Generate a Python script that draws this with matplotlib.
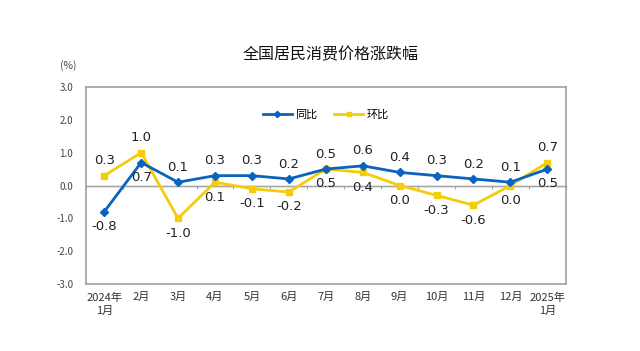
import matplotlib
matplotlib.use("Agg")
import matplotlib.pyplot as plt
import numpy as np

plt.rcParams['font.family'] = ['Noto Sans CJK SC', 'DejaVu Sans']

months = ["2024年\n1月", "2月", "3月", "4月", "5月", "6月", "7月", "8月",
          "9月", "10月", "11月", "12月", "2025年\n1月"]
yoy = [-0.8, 0.7, 0.1, 0.3, 0.3, 0.2, 0.5, 0.6, 0.4, 0.3, 0.2, 0.1, 0.5]
mom = [0.3, 1.0, -1.0, 0.1, -0.1, -0.2, 0.5, 0.4, 0.0, -0.3, -0.6, 0.0, 0.7]
# label placement: True = above the point
yoy_above = [False, False, True, True, True, True, True, True, True, True, True, True, False]
mom_above = [True, True, False, False, False, False, False, False, False, False, False, False, True]
yticks = [3.0, 2.0, 1.0, 0.0, -1.0, -2.0, -3.0]

blue = "#0a63bf"
yellow = "#f5cc0a"

fig = plt.figure(figsize=(6.4, 3.51), dpi=100)
ax = fig.add_axes([0.134, 0.191, 0.750, 0.561])
x = np.arange(len(months))

ax.axhline(0, color="#a6a6a6", lw=1.0, zorder=1)
ax.plot(x, yoy, color=blue, lw=2.0, marker="D", ms=4, label="同比", zorder=3)
ax.plot(x, mom, color=yellow, lw=2.0, marker="s", ms=4, label="环比", zorder=2)

for xi, v, a in zip(x, yoy, yoy_above):
    ax.annotate(f"{v:.1f}", (xi, v), xytext=(0, 6 if a else -6), textcoords="offset points",
                ha="center", va="bottom" if a else "top", fontsize=9.5, color="#222222",
                family=["DejaVu Sans"])
for xi, v, a in zip(x, mom, mom_above):
    ax.annotate(f"{v:.1f}", (xi, v), xytext=(0, 6 if a else -6), textcoords="offset points",
                ha="center", va="bottom" if a else "top", fontsize=9.5, color="#222222",
                family=["DejaVu Sans"])

ax.set_xlim(-0.5, len(months) - 0.5)
ax.set_ylim(-3, 3)
ax.set_yticks(yticks)
ax.set_yticklabels([f"{t:.1f}" for t in yticks], fontsize=7, color="#444444")
ax.set_xticks(x)
ax.set_xticklabels(months, fontsize=8, color="#333333", linespacing=1.45)
ax.tick_params(axis="x", length=0, pad=6)
ax.tick_params(axis="y", length=0, pad=9)
for s in ax.spines.values():
    s.set_color("#a0a0a0")
    s.set_linewidth(1.2)

sec = ax.secondary_xaxis(0.5)
sec.set_xticks(np.arange(-0.5, len(months), 1.0))
sec.set_xticklabels([])
sec.tick_params(direction="in", length=2.5, color="#a6a6a6", width=0.8)
sec.spines["bottom"].set_visible(False)

ax.legend(loc="center", bbox_to_anchor=(0.5, 0.86), ncol=2, frameon=False,
          fontsize=8, handlelength=2.6, columnspacing=1.5, handletextpad=0.3,
          markerscale=0.8)

fig.text(0.516, 0.843, "全国居民消费价格涨跌幅", ha="center", va="center", fontsize=11.5,
         color="#111111")
fig.text(0.106, 0.812, "(%)", ha="center", va="center", fontsize=7.5, color="#444444")

fig.savefig("out.png", dpi=100)
